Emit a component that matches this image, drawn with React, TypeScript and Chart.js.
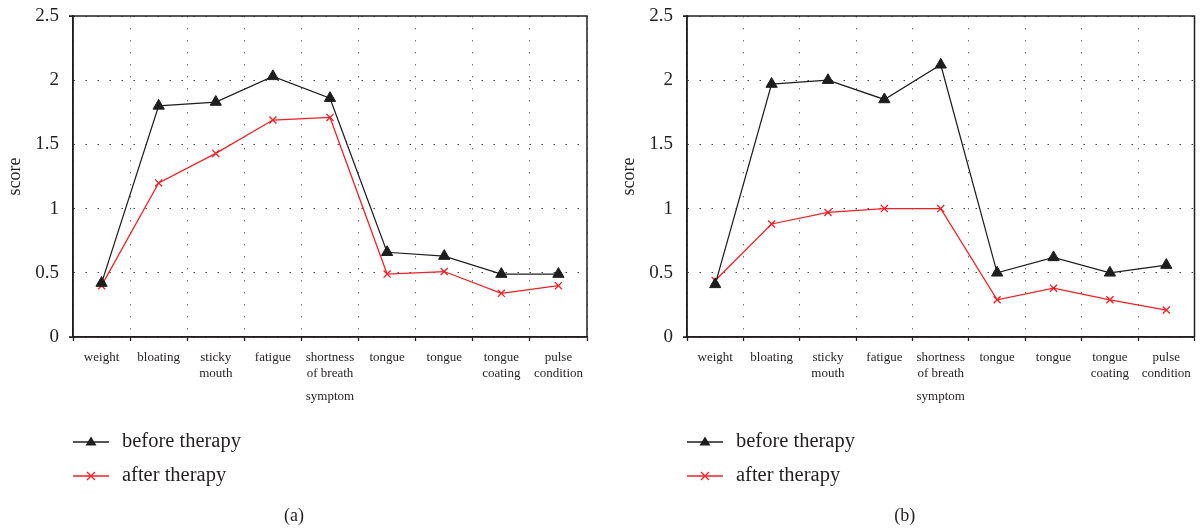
import React, { useEffect, useRef } from 'react';
import { Chart, registerables } from 'chart.js';

Chart.register(...registerables);

// ---------- data ----------
const categories: string[][] = [
  ['weight'],
  ['bloating'],
  ['sticky', 'mouth'],
  ['fatigue'],
  ['shortness', 'of breath'],
  ['tongue'],
  ['tongue'],
  ['tongue', 'coating'],
  ['pulse', 'condition'],
];
const yTickValues = [0, 0.5, 1, 1.5, 2, 2.5];
const seriesNames = ['before therapy', 'after therapy'];
const panelLabels = ['(a)', '(b)'];
const xTitle = 'symptom';
const yTitle = 'score';

const beforeA = [0.42, 1.8, 1.83, 2.03, 1.86, 0.66, 0.63, 0.49, 0.49];
const afterA = [0.4, 1.2, 1.43, 1.69, 1.71, 0.49, 0.51, 0.34, 0.4];
const beforeB = [0.41, 1.97, 2.0, 1.85, 2.12, 0.5, 0.62, 0.5, 0.56];
const afterB = [0.44, 0.88, 0.97, 1.0, 1.0, 0.29, 0.38, 0.29, 0.21];

// ---------- style ----------
const FONT = "'Liberation Serif', 'DejaVu Serif', serif";
const INK = '#231f20';
const BLACK_LINE = '#1e1e1e';
const RED_LINE = '#f01f24';
const GRID_X = '#707070';
const GRID_Y = '#444444';
const H = 531;

const framePlugin = {
  id: 'frameLegend',
  afterDraw(chart: any, _args: any, opts: any) {
    const { ctx, chartArea: a } = chart;
    ctx.save();
    // frame
    ctx.setLineDash([]);
    ctx.strokeStyle = INK;
    ctx.lineWidth = 1.5;
    ctx.beginPath();
    ctx.moveTo(a.left - 4, a.top);
    ctx.lineTo(a.right, a.top);
    ctx.lineTo(a.right, a.bottom);
    ctx.moveTo(a.left - 4, a.bottom);
    ctx.lineTo(a.right, a.bottom);
    ctx.moveTo(a.left, a.top);
    ctx.lineTo(a.left, a.bottom);
    ctx.stroke();

    // legend
    const ds = chart.data.datasets;
    ds.forEach((d: any, i: number) => {
      const y = 442 + i * 34;
      const x0 = a.left;
      const x1 = a.left + 36;
      const cx = (x0 + x1) / 2;
      ctx.strokeStyle = d.borderColor;
      ctx.lineWidth = 1.3;
      ctx.beginPath();
      ctx.moveTo(x0, y);
      ctx.lineTo(x1, y);
      ctx.stroke();
      if (d.pointStyle === 'triangle') {
        ctx.fillStyle = d.borderColor;
        ctx.beginPath();
        ctx.moveTo(cx, y - 5.5);
        ctx.lineTo(cx + 5.5, y + 3.5);
        ctx.lineTo(cx - 5.5, y + 3.5);
        ctx.closePath();
        ctx.fill();
      } else {
        ctx.lineWidth = 1.3;
        ctx.beginPath();
        ctx.moveTo(cx - 4, y - 4);
        ctx.lineTo(cx + 4, y + 4);
        ctx.moveTo(cx + 4, y - 4);
        ctx.lineTo(cx - 4, y + 4);
        ctx.stroke();
      }
      ctx.fillStyle = INK;
      ctx.font = `20.5px ${FONT}`;
      ctx.textBaseline = 'middle';
      ctx.textAlign = 'left';
      ctx.fillText(d.label, a.left + 49, y);
    });

    // caption
    ctx.fillStyle = INK;
    ctx.font = `18px ${FONT}`;
    ctx.textAlign = 'center';
    ctx.textBaseline = 'middle';
    ctx.fillText(opts.caption, (a.left + a.right) / 2 - 36, 516);
    ctx.restore();
  },
};

function Panel(props: {
  before: number[];
  after: number[];
  caption: string;
  left: number;
  width: number;
  padRight: number;
}) {
  const ref = useRef<HTMLCanvasElement>(null);
  useEffect(() => {
    const chart = new Chart(ref.current as HTMLCanvasElement, {
      type: 'line',
      data: {
        labels: categories as any,
        datasets: [
          {
            label: seriesNames[0],
            data: props.before,
            borderColor: BLACK_LINE,
            backgroundColor: BLACK_LINE,
            borderWidth: 1.25,
            pointStyle: 'triangle',
            pointRadius: 6.5,
            pointBorderWidth: 1,
            tension: 0,
          },
          {
            label: seriesNames[1],
            data: props.after,
            borderColor: RED_LINE,
            backgroundColor: RED_LINE,
            borderWidth: 1.25,
            pointStyle: 'crossRot',
            pointRadius: 5,
            pointBorderWidth: 1.3,
            tension: 0,
          },
        ],
      },
      options: {
        animation: false,
        responsive: false,
        devicePixelRatio: 1,
        layout: { padding: { top: 16, left: 0, right: props.padRight, bottom: H - 405 } },
        plugins: {
          legend: { display: false },
          tooltip: { enabled: false },
          frameLegend: { caption: props.caption },
        } as any,
        scales: {
          x: {
            type: 'category',
            offset: true,
            grid: {
              offset: true,
              color: GRID_X,
              lineWidth: 1,
              tickLength: 4,
              tickColor: INK,
              tickWidth: 1.3,
              tickBorderDash: [],
            } as any,
            border: { display: true, color: INK, width: 1.5, dash: [1.5, 10.5] } as any,
            ticks: {
              color: INK,
              font: { family: FONT, size: 13, lineHeight: 1.25 },
              padding: 8,
              maxRotation: 0,
              minRotation: 0,
              autoSkip: false,
            },
            title: {
              display: true,
              text: xTitle,
              color: INK,
              font: { family: FONT, size: 13, lineHeight: 1.23 },
              padding: { top: 0, bottom: 0 },
            },
            afterFit: (s: any) => {
              s.height = 68;
            },
          },
          y: {
            min: 0,
            max: 2.5,
            afterBuildTicks: (s: any) => {
              s.ticks = yTickValues.map((v) => ({ value: v }));
            },
            grid: {
              color: GRID_Y,
              lineWidth: 1,
              tickLength: 4,
              tickColor: (c: any) =>
                c.tick && (c.tick.value === 0 || c.tick.value === 2.5) ? INK : 'rgba(0,0,0,0)',
              tickBorderDash: [],
            } as any,
            border: { display: true, color: INK, width: 1.5, dash: [1.5, 10.5] } as any,
            ticks: {
              color: INK,
              font: { family: FONT, size: 19 },
              padding: 10,
              callback: (v: any) => String(v),
            },
            title: {
              display: true,
              text: yTitle,
              color: INK,
              font: { family: FONT, size: 18, lineHeight: 1.2 },
              padding: { top: 4, bottom: 0 },
            },
            afterFit: (s: any) => {
              s.width = 73;
              s.paddingTop = 0;
              s.paddingBottom = 0;
            },
          },
        },
      },
      plugins: [framePlugin as any],
    });
    return () => chart.destroy();
  }, []);
  return (
    <canvas
      ref={ref}
      width={props.width}
      height={H}
      style={{ position: 'absolute', left: props.left, top: 0, width: props.width, height: H }}
    />
  );
}

export default function App() {
  return (
    <div
      style={{
        position: 'fixed',
        left: 0,
        top: 0,
        width: 1202,
        height: H,
        background: '#ffffff',
        overflow: 'hidden',
      }}
    >
      <Panel before={beforeA} after={afterA} caption={panelLabels[0]} left={0} width={600} padRight={13} />
      <Panel before={beforeB} after={afterB} caption={panelLabels[1]} left={614} width={588} padRight={2} />
    </div>
  );
}
